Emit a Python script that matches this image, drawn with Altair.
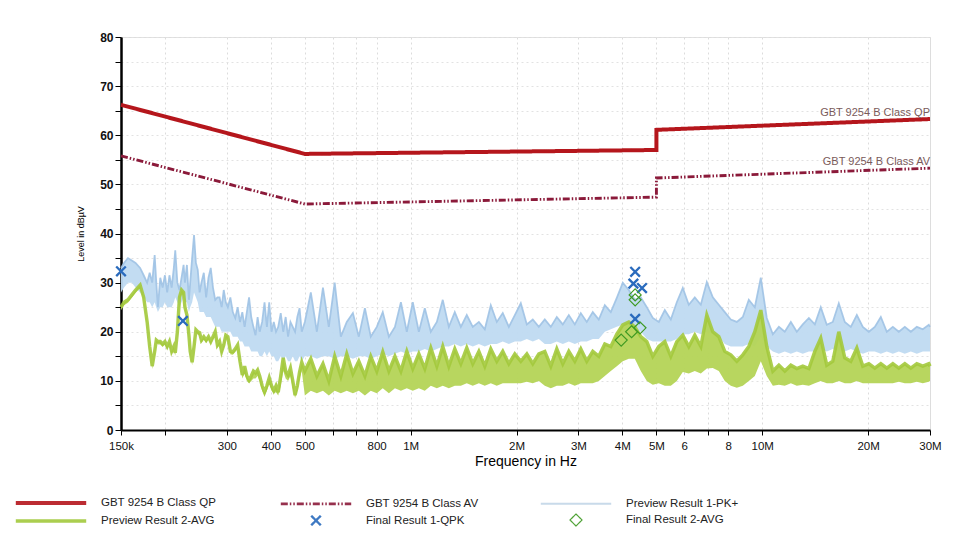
import altair as alt
import pandas as pd

# ---------------- series names ----------------
S_QP = "GBT 9254 B Class QP"
S_AV = "GBT 9254 B Class AV"
S_PK = "Preview Result 1-PK+"
S_PAVG = "Preview Result 2-AVG"
S_QPK = "Final Result 1-QPK"
S_FAVG = "Final Result 2-AVG"
# legend is filled column by column (2 rows x 3 columns)
SERIES = [S_QP, S_PAVG, S_AV, S_QPK, S_PK, S_FAVG]

# ---------------- x axis ticks (MHz) ----------------
tick_vals = [0.15, 0.2, 0.3, 0.4, 0.5, 0.6, 0.7, 0.8, 1, 2, 3, 4, 5, 6, 7, 8, 10, 20, 30]
tick_labels = ["150k", "", "300", "400", "500", "", "", "800", "1M", "2M", "3M", "4M",
               "5M", "6", "", "8", "10M", "20M", "30M"]
y_ticks = list(range(0, 85, 5))

# ---------------- limit lines ----------------
lim_freq = [0.15, 0.5, 5.0, 5.0, 30.0]
qp_level = [66.2, 56.2, 57.0, 61.1, 63.3]
av_level = [55.8, 46.0, 47.4, 51.3, 53.3]

# ---------------- preview spectra (MHz, dBuV) ----------------
spec_freq = [
    0.150, 0.153, 0.157, 0.161, 0.165, 0.170, 0.174, 0.178, 0.181, 0.184, 0.187, 0.189, 0.191,
    0.194, 0.197, 0.200, 0.203, 0.206, 0.209, 0.212, 0.214, 0.217, 0.220, 0.223, 0.226, 0.228,
    0.231, 0.234, 0.236, 0.239, 0.242, 0.245, 0.248, 0.251, 0.254, 0.258, 0.262, 0.266, 0.270,
    0.274, 0.278, 0.282, 0.286, 0.290, 0.294, 0.298,
    0.302, 0.307, 0.312, 0.317, 0.322, 0.327, 0.332, 0.337, 0.342, 0.347, 0.352, 0.357, 0.362,
    0.367, 0.372, 0.378, 0.384, 0.390, 0.396, 0.402, 0.408, 0.414, 0.420, 0.427, 0.434, 0.441,
    0.448, 0.455, 0.462, 0.469, 0.476, 0.483, 0.490,
    0.500, 0.520, 0.541, 0.563, 0.585, 0.608, 0.633, 0.658, 0.685, 0.712, 0.741, 0.770, 0.801,
    0.833, 0.867, 0.902, 0.938, 0.975, 1.014, 1.055, 1.097, 1.141, 1.187, 1.234, 1.284, 1.335,
    1.389, 1.444, 1.502, 1.563, 1.625, 1.690, 1.758, 1.828, 1.902, 1.978, 2.057, 2.140, 2.225,
    2.315,
    2.407, 2.504, 2.604, 2.708, 2.817, 2.930, 3.047, 3.169, 3.296, 3.428, 3.566, 3.709, 3.857,
    4.012, 4.173, 4.340, 4.514, 4.695, 4.883, 5.079, 5.282, 5.494, 5.714, 5.943, 6.181, 6.429,
    6.687, 6.955, 7.234, 7.524, 7.825, 8.139, 8.465, 8.804, 9.157,
    9.524, 9.906, 10.30, 10.72, 11.15, 11.59, 12.06, 12.54, 13.04, 13.57, 14.11, 14.67, 15.26,
    15.87, 16.51, 17.17, 17.86, 18.58, 19.32, 20.10, 20.90, 21.74, 22.61, 23.52, 24.46, 25.44,
    26.46, 27.52, 28.62, 29.77, 30.0,
]

pk_top = [
    33, 34, 35, 34.5, 34, 33, 31.5, 30, 32, 30, 35.6, 30, 25, 31, 29, 31.5, 28, 31.5, 29, 33,
    36.6, 30, 28.5, 31, 33.6, 30, 33.6, 26.5, 30, 35, 39.7, 34, 32.6, 28, 30, 32, 27, 31, 33,
    29, 26.5, 27, 27, 25, 28.5, 26,
    25, 27, 24, 22.8, 25, 22, 24, 21, 24, 27, 23, 21, 19.3, 23, 20, 22, 26, 21, 26, 20, 22, 20,
    21, 23.8, 20, 23, 19, 22, 21, 20, 23, 24.8, 20,
    22, 28, 20, 29, 21, 30, 19, 22, 23.8, 19, 24.8, 19, 21, 24, 19, 21, 26, 20, 26, 20, 24.8,
    20, 22, 26.5, 21, 24, 21, 23.4, 21, 22, 20.5, 25.4, 22, 23.8, 21, 23.4, 25.8, 21.5, 22.5, 21,
    22.5, 21, 23, 21.5, 23.4, 21.5, 23.8, 22, 24, 22.5, 25.4, 24, 26.9, 30, 28.5, 26.5, 27, 25,
    22.8, 22, 24.4, 22.5, 26, 28.9, 25.5, 27, 25.5, 30.1, 27, 25.5, 24, 22.5, 22, 23, 26.5,
    25, 31, 22.8, 19.5, 21, 20, 22, 20, 21.5, 22.8, 21.5, 25, 21.4, 22, 25.8, 22, 21, 23.4, 21,
    20, 21, 23, 20, 21, 20, 21, 20, 21, 20.5, 21.4, 21,
]
pk_bot = [
    28, 29, 30, 30, 29, 28, 27, 26, 26, 25, 26, 25, 24, 25, 25, 26, 25, 25, 25, 26, 27, 26, 25,
    26, 27, 26, 26, 24, 25, 26, 28, 27, 26, 24, 24, 24, 23, 23, 23, 22, 21, 21, 21, 20, 20, 20,
    20, 20, 19, 19, 19, 18, 18, 17, 17, 17, 16, 16, 16, 16, 15, 15, 16, 15, 16, 15, 15, 14, 14,
    15, 14, 15, 14, 14, 15, 14, 14, 15, 14,
    15, 15, 14.5, 15, 15, 14.5, 15, 15, 14.5, 15, 15, 14.5, 15, 15.5, 15, 15.5, 16, 15.5, 16, 16,
    16.5, 16, 16.5, 17, 17, 17.5, 17, 17.5, 17, 17.5, 17, 17.5, 17.5, 18, 17.5, 18, 18, 18.5, 18,
    18.5,
    17.5, 17.5, 18, 17.5, 18, 17.5, 18, 18, 18.5, 18.5, 20, 20.5, 21, 21.5, 21, 20.5, 20, 18.5,
    18, 18, 18, 18, 18.5, 19.5, 19.5, 20, 19.5, 20, 19.5, 19, 17.5, 17, 17, 17, 17.5,
    17, 19, 17, 16, 15.5, 16, 15.5, 16, 15.5, 16, 16, 16.5, 16, 16.5, 16, 16, 16.5, 16, 15.5, 16,
    16, 15.5, 16, 15.5, 16, 15.5, 16, 15.5, 16, 16, 16,
]
av_top = [
    25, 26, 26.5, 27.5, 28.5, 29.5, 27, 22, 17, 13, 16, 18.3, 18, 18, 17.5, 18, 17, 18, 16, 17,
    15.7, 20, 27, 28.5, 28, 25, 23.4, 19.3, 16, 13.8, 17, 20.4, 20, 19.8, 18.3, 19, 18.3, 19, 18,
    19, 20, 17.3, 18, 16, 17.3, 19.3,
    19, 16, 15.9, 16.5, 17.3, 14, 11.2, 13, 11, 10.2, 11, 12, 11.6, 12.2, 11, 9, 7.7, 9, 10.6, 9,
    8, 9, 7.7, 11, 14.7, 12, 11.2, 12.6, 10, 7.1, 9, 11.8, 13.8,
    12, 14.5, 11, 13.5, 10, 15, 11, 15.5, 11.5, 14, 11, 15, 12, 15.9, 12, 15, 12, 16, 12.5, 15.5,
    12.5, 16.7, 13, 17, 13, 16.5, 13.5, 16.7, 13.5, 16, 13, 16.5, 14, 16, 13.5, 15.5, 14, 15.5,
    13.5, 15.5,
    16, 13, 16.5, 13.5, 16, 14, 16.5, 14, 16, 15, 17.5, 17, 19.5, 21.4, 22, 21, 19, 18, 15, 17,
    18, 15, 18, 19.3, 17, 19.3, 17, 23.4, 20, 19, 16, 15.3, 14, 15.3, 17,
    20, 24.4, 17, 12, 13.2, 12, 13.2, 12.5, 13, 12.5, 16, 18.7, 13.2, 14, 20, 14.7, 14, 16.7, 13,
    13.5, 12.6, 13.5, 12.6, 13.5, 12.6, 13.5, 12.6, 13.5, 13, 13.5, 13,
]
av_bot = [
    24.4, 25.4, 25.9, 26.9, 27.9, 28.9, 26.4, 21.4, 16.4, 12.4, 15.4, 17.7, 17.4, 17.4, 16.9,
    17.4, 16.4, 17.4, 15.4, 16.4, 15.1, 19.4, 26.4, 27.9, 27.4, 24.4, 22.8, 18.7, 15.4, 13.2,
    16.4, 19.8, 19.4, 19.2, 17.7, 18.4, 17.7, 18.4, 17.4, 18.4, 19.4, 16.7, 17.4, 15.4, 16.7, 18.7,
    18.4, 15.4, 15.3, 15.9, 16.7, 13.4, 10.5, 11.5, 10, 9.5, 10, 10.5, 10.5, 11, 10, 8, 7, 8,
    9.5, 8, 7.5, 7.7, 7, 9, 12, 10.5, 10, 11, 8.5, 6.5, 8, 10.5, 12,
    7, 8, 7.5, 8, 7, 8, 7.5, 8, 7.5, 8, 7, 8, 7.5, 8.5, 7.5, 8.5, 8, 8.5, 8, 8.5, 8, 9, 8.5, 9,
    8.5, 9, 9, 9.5, 9, 9.5, 9, 9.5, 9, 9.5, 9.5, 9.5, 9.5, 9.8, 9.5, 10,
    9, 8.5, 9, 9, 9.5, 9, 9.5, 9.5, 9.5, 10, 11, 12, 13, 14, 14.5, 14.5, 12, 10, 9.2, 9.5, 9, 9,
    10, 11.8, 11.5, 12, 11.5, 12.5, 12.6, 12, 10, 9, 8.6, 9, 10,
    11, 14, 11, 9, 9.2, 9, 9.5, 9, 9.2, 9, 9.5, 10, 9.5, 9.5, 10, 9.5, 9.5, 10, 9.5, 9.5, 9.5,
    9.5, 9.5, 9.5, 9.8, 9.5, 9.5, 9.8, 9.5, 9.8, 10,
]

# ---------------- final results ----------------
qpk_freq = [0.150, 0.225, 4.35, 4.30, 4.55, 4.35]
qpk_level = [32.3, 22.2, 32.2, 29.8, 28.9, 22.6]
favg_freq = [3.97, 4.25, 4.49, 4.35, 4.35]
favg_level = [18.3, 20.0, 20.8, 26.5, 27.5]

# ---------------- build tables ----------------
lim_df = pd.concat([
    pd.DataFrame({"freq": lim_freq, "level": qp_level, "idx": range(5), "series": S_QP}),
    pd.DataFrame({"freq": lim_freq, "level": av_level, "idx": range(5), "series": S_AV}),
])
lim_lab = pd.DataFrame({"freq": [lim_freq[-1], lim_freq[-1]],
                        "level": [qp_level[-1], av_level[-1]],
                        "label": [S_QP, S_AV]})
pk_df = pd.DataFrame({"freq": spec_freq, "top": pk_top, "bot": pk_bot, "series": S_PK})
av_df = pd.DataFrame({"freq": spec_freq, "top": av_top, "bot": av_bot, "series": S_PAVG})
pts_df = pd.concat([
    pd.DataFrame({"freq": qpk_freq, "level": qpk_level, "series": S_QPK}),
    pd.DataFrame({"freq": favg_freq, "level": favg_level, "series": S_FAVG}),
])

# ---------------- scales / legend (ranges follow SERIES order) ----------------
LINE = "M-4.4,0L4.4,0"
CROSS = "M-0.6,-0.6L0.6,0.6M-0.6,0.6L0.6,-0.6"
DIAMOND = "M0,-0.75L0.75,0L0,0.75L-0.75,0Z"

style = {
    S_QP: ("#b5161c", LINE, [1, 0], 4),
    S_PAVG: ("#a3c93c", LINE, [1, 0], 1.2),
    S_AV: ("#8b1a3a", LINE, [7, 2, 1.5, 2, 1.5, 2], 1.6),
    S_QPK: ("#2a6bbd", CROSS, [1, 0], 1.6),
    S_PK: ("#c3d6e8", LINE, [1, 0], 1),
    S_FAVG: ("#3e9a22", DIAMOND, [1, 0], 2),
}
color_scale = alt.Scale(domain=SERIES, range=[style[s][0] for s in SERIES])
shape_scale = alt.Scale(domain=SERIES, range=[style[s][1] for s in SERIES])
dash_scale = alt.Scale(domain=SERIES, range=[style[s][2] for s in SERIES])
width_scale = alt.Scale(domain=SERIES, range=[style[s][3] for s in SERIES])

legend = alt.Legend(orient="none", legendX=-80, legendY=456, columns=3, title=None,
                    symbolSize=256, labelFontSize=11.5, labelOffset=40, columnPadding=58,
                    rowPadding=0, labelLimit=400, labelColor="#222")

x_expr = "''"
for v, l in reversed(list(zip(tick_vals, tick_labels))):
    x_expr = f"datum.value == {v} ? '{l}' : ({x_expr})"

x_enc = alt.X("freq:Q",
              scale=alt.Scale(type="log", domain=[0.15, 30], nice=False),
              axis=alt.Axis(values=tick_vals, labelExpr=x_expr, title="Frequency in Hz",
                            titleFontSize=14, titleFontWeight="normal", titlePadding=3,
                            labelFontSize=11.5, labelColor="#111", labelPadding=5,
                            tickColor="black", tickSize=5, domainColor="black",
                            domainWidth=2, grid=True, gridColor="#dcdcdc",
                            gridDash=[2, 3], labelFlush=False, labelOverlap=False))
y_scale = alt.Scale(domain=[0, 80], nice=False)
y_axis = alt.Axis(values=y_ticks, labelExpr="datum.value % 10 === 0 ? datum.value : ''",
                  title="Level in dBµV", titleFontSize=9, titleFontWeight="normal",
                  titlePadding=14, labelFontSize=12, labelFontWeight="bold",
                  labelColor="#111", labelPadding=2, tickColor="black", tickSize=6,
                  domainColor="black", domainWidth=2.5, grid=True, gridColor="#e2e2e2",
                  gridDash=[2, 3])

base_color = alt.Color("series:N", scale=color_scale, legend=legend)
base_width = alt.StrokeWidth("series:N", scale=width_scale, legend=legend)

pk_area = alt.Chart(pk_df).mark_area(color="#bfdaf1", opacity=0.95).encode(
    x=x_enc, y=alt.Y("bot:Q", scale=y_scale, axis=y_axis), y2="top:Q")
pk_edge = alt.Chart(pk_df).mark_line(opacity=0.9, color="#9fc2e4").encode(
    x=x_enc, y=alt.Y("top:Q", scale=y_scale, axis=y_axis),
    strokeWidth=base_width)
av_area = alt.Chart(av_df).mark_area(color="#b4d456", opacity=0.95).encode(
    x=x_enc, y=alt.Y("bot:Q", scale=y_scale, axis=y_axis), y2="top:Q")
av_edge = alt.Chart(av_df).mark_line(opacity=0.9).encode(
    x=x_enc, y=alt.Y("top:Q", scale=y_scale, axis=y_axis),
    color=base_color, strokeWidth=base_width)
lim_lines = alt.Chart(lim_df).mark_line().encode(
    x=x_enc, y=alt.Y("level:Q", scale=y_scale, axis=y_axis),
    color=base_color, strokeWidth=base_width,
    strokeDash=alt.StrokeDash("series:N", scale=dash_scale, legend=legend),
    order="idx:Q", detail="series:N")
lim_text = alt.Chart(lim_lab).mark_text(align="right", baseline="bottom", dy=-1, fontSize=11,
                                        color="#7a5a5a").encode(
    x=x_enc, y=alt.Y("level:Q", scale=y_scale, axis=y_axis), text="label:N")
points = alt.Chart(pts_df).mark_point(filled=False, size=256, opacity=1).encode(
    x=x_enc, y=alt.Y("level:Q", scale=y_scale, axis=y_axis),
    color=base_color, strokeWidth=base_width,
    shape=alt.Shape("series:N", scale=shape_scale, legend=legend))

chart = alt.layer(pk_area, pk_edge, av_area, av_edge, lim_lines, lim_text, points).properties(
    width=809, height=393,
    autosize=alt.AutoSizeParams(type="none"),
    padding={"left": 113, "top": 29, "right": 20, "bottom": 100},
).configure_view(stroke=None).configure(font="Liberation Sans")

chart.save("out.html", embed_options={"renderer": "svg", "actions": False})
